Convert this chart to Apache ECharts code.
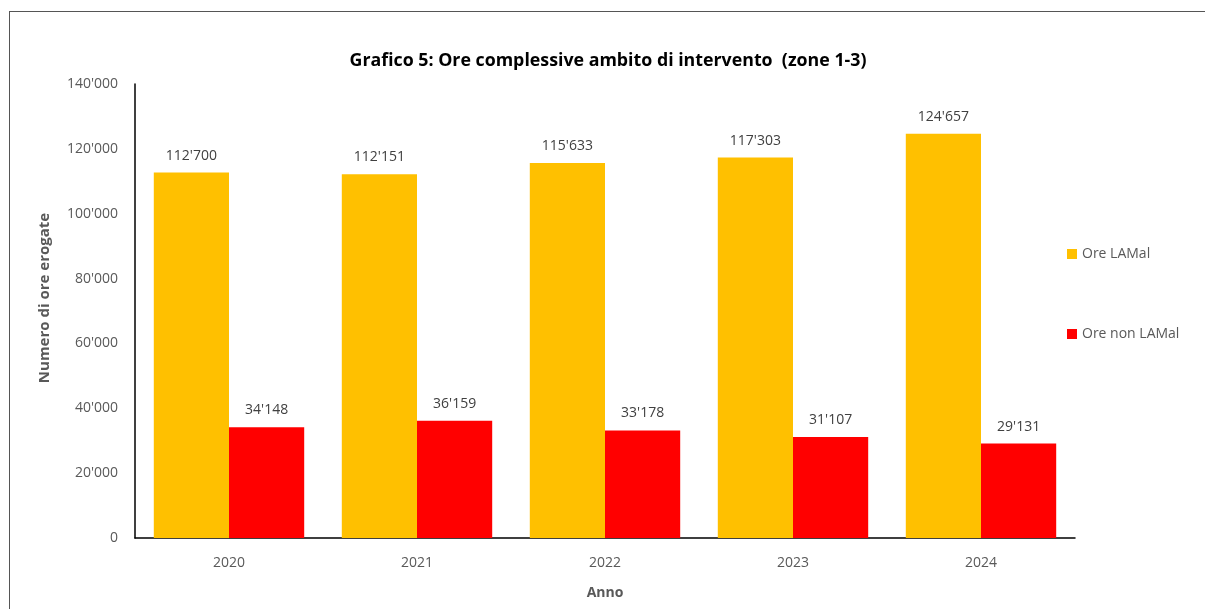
<!DOCTYPE html>
<html>
<head>
<meta charset="utf-8">
<script src="https://cdn.jsdelivr.net/npm/echarts@6/dist/echarts.min.js"></script>
<style>
  html, body { margin: 0; padding: 0; background: #fff; }
  #frame { position: absolute; left: 9px; top: 11px; width: 1205px; height: 609px; border-left: 1px solid #555; border-top: 1px solid #555; }
  #chart { position: absolute; left: 0; top: 0; width: 1205px; height: 609px; }
</style>
</head>
<body>
<div id="frame"></div>
<div id="chart"></div>
<script>
const anni = ['2020', '2021', '2022', '2023', '2024'];
const oreLamal = [112700, 112151, 115633, 117303, 124657];
const oreNonLamal = [34148, 36159, 33178, 31107, 29131];

const fmt = (v) => String(v).replace(/\B(?=(\d{3})+(?!\d))/g, "'");
const font = 'Open Sans, Noto Sans, sans-serif';

var chartDom = document.getElementById('chart');
var myChart = echarts.init(chartDom);

const option = {
  animation: false,
  title: {
    text: 'Grafico 5: Ore complessive ambito di intervento  (zone 1-3)',
    left: 603,
    textAlign: 'center',
    top: 47,
    textStyle: { fontFamily: font, fontSize: 17.8, fontWeight: 'bold', color: '#000' }
  },
  legend: {
    orient: 'vertical',
    left: 1062,
    top: 242,
    itemGap: 66,
    itemWidth: 10,
    itemHeight: 10,
    icon: 'rect',
    textStyle: { fontFamily: font, fontSize: 14, color: '#595959' },
    data: ['Ore LAMal', 'Ore non LAMal']
  },
  grid: { left: 135, right: 130, top: 84, bottom: 71, containLabel: false },
  xAxis: {
    type: 'category',
    data: anni,
    name: 'Anno',
    nameLocation: 'middle',
    nameGap: 48,
    nameTextStyle: { fontFamily: font, fontSize: 14, fontWeight: 'bold', color: '#595959' },
    axisLine: { lineStyle: { color: '#000', width: 1.5 } },
    axisTick: { show: false },
    axisLabel: { fontFamily: font, fontSize: 14, color: '#595959', margin: 18 }
  },
  yAxis: {
    type: 'value',
    min: 0,
    max: 140000,
    interval: 20000,
    name: 'Numero di ore erogate',
    nameLocation: 'middle',
    nameGap: 83,
    nameTextStyle: { fontFamily: font, fontSize: 15, fontWeight: 'bold', color: '#595959', padding: [0, 0, 0, 26] },
    axisLine: { show: true, lineStyle: { color: '#000', width: 1.5 } },
    axisTick: { show: false },
    splitLine: { show: false },
    axisLabel: { fontFamily: font, fontSize: 14, color: '#595959', margin: 17, formatter: fmt }
  },
  series: [
    {
      name: 'Ore LAMal',
      type: 'bar',
      data: oreLamal,
      barGap: '0%',
      barCategoryGap: '20%',
      itemStyle: { color: '#FFC000' },
      label: { show: true, position: 'top', distance: 10, fontFamily: font, fontSize: 14, color: '#404040', formatter: (p) => fmt(p.value) }
    },
    {
      name: 'Ore non LAMal',
      type: 'bar',
      data: oreNonLamal,
      itemStyle: { color: '#FF0000' },
      label: { show: true, position: 'top', distance: 10, fontFamily: font, fontSize: 14, color: '#404040', formatter: (p) => fmt(p.value) }
    }
  ]
};
option && myChart.setOption(option);
window.addEventListener('resize', function () {
  myChart.resize();
});
</script>
</body>
</html>
